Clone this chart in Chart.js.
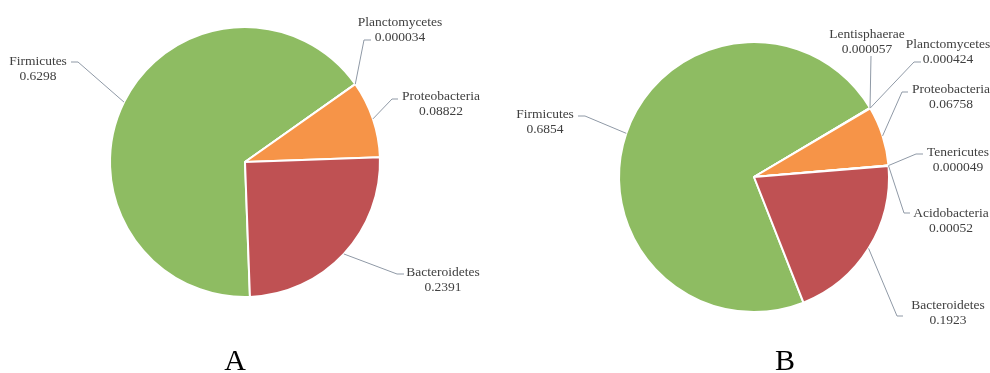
<!DOCTYPE html>
<html>
<head>
<meta charset="utf-8">
<script src="https://cdn.jsdelivr.net/npm/chart.js@4"></script>
<style>
  html, body { margin: 0; padding: 0; background: #fff; }
  .wrap { position: absolute; top: 0; width: 495px; height: 373px; }
  #wrapA { left: 0; }
  #wrapB { left: 495px; }
</style>
</head>
<body>
<div class="wrap" id="wrapA"><canvas id="chartA"></canvas></div>
<div class="wrap" id="wrapB"><canvas id="chartB"></canvas></div>
<script>
// ── datos ──
const catsA = ['Firmicutes', 'Planctomycetes', 'Proteobacteria', 'Bacteroidetes'];
const valsA = [0.6298, 0.000034, 0.08822, 0.2391];

const catsB = ['Firmicutes', 'Lentisphaerae', 'Planctomycetes', 'Proteobacteria', 'Tenericutes', 'Acidobacteria', 'Bacteroidetes'];
const valsB = [0.6854, 0.000057, 0.000424, 0.06758, 0.000049, 0.00052, 0.1923];

const panelTitles = ['A', 'B'];

// ── estilo ──
const phylumColor = {
  Firmicutes: '#8ebc62',
  Proteobacteria: '#f69448',
  Bacteroidetes: '#bf5153',
  Planctomycetes: '#8064a2',
  Lentisphaerae: '#4bacc6',
  Tenericutes: '#4f81bd',
  Acidobacteria: '#2c4d75'
};
const LEADER = '#8f99a6';
const FONT = '"Liberation Serif", "Times New Roman", serif';

// posiciones de etiquetas (coords del canvas): texto, codo y final de la guía
const layoutA = {
  Firmicutes:     { tx: 38,  ty: 60,  elbow: [78, 62],  end: [71, 62] },
  Planctomycetes: { tx: 400, ty: 21,  elbow: [364, 40], end: [371, 40] },
  Proteobacteria: { tx: 441, ty: 95,  elbow: [392, 99], end: [398, 99] },
  Bacteroidetes:  { tx: 443, ty: 271, elbow: [397, 274], end: [404, 274] }
};
const layoutB = {
  Firmicutes:     { tx: 50,  ty: 113, elbow: [90, 116],  end: [83, 116] },
  Lentisphaerae:  { tx: 372, ty: 33,  elbow: [376, 56],  end: [376, 56] },
  Planctomycetes: { tx: 453, ty: 43,  elbow: [419, 62],  end: [426, 62] },
  Proteobacteria: { tx: 456, ty: 88,  elbow: [407, 92],  end: [413, 92] },
  Tenericutes:    { tx: 463, ty: 151, elbow: [421, 154], end: [428, 154] },
  Acidobacteria:  { tx: 456, ty: 212, elbow: [409, 213], end: [415, 213] },
  Bacteroidetes:  { tx: 453, ty: 304, elbow: [402, 316], end: [408, 316] }
};

// etiquetas con líneas guía estilo Excel + letra del panel
const labelPlugin = {
  id: 'pieLabels',
  afterDatasetsDraw(chart, args, opts) {
    const ctx = chart.ctx;
    const meta = chart.getDatasetMeta(0);
    const cats = chart.data.labels;
    const vals = chart.data.datasets[0].data;
    ctx.save();
    meta.data.forEach((arc, i) => {
      const p = arc.getProps(['x', 'y', 'startAngle', 'endAngle', 'outerRadius'], true);
      const mid = (p.startAngle + p.endAngle) / 2;
      const ex = p.x + Math.cos(mid) * p.outerRadius;
      const ey = p.y + Math.sin(mid) * p.outerRadius;
      const L = opts.layout[cats[i]];
      ctx.strokeStyle = LEADER;
      ctx.lineWidth = 1;
      ctx.beginPath();
      ctx.moveTo(ex, ey);
      ctx.lineTo(L.elbow[0], L.elbow[1]);
      ctx.lineTo(L.end[0], L.end[1]);
      ctx.stroke();
      ctx.fillStyle = '#404040';
      ctx.font = '13.5px ' + FONT;
      ctx.textAlign = 'center';
      ctx.textBaseline = 'alphabetic';
      ctx.fillText(cats[i], L.tx, L.ty + 4.5);
      ctx.fillText(String(vals[i]), L.tx, L.ty + 20);
    });
    ctx.fillStyle = '#000';
    ctx.font = '30px ' + FONT;
    ctx.textAlign = 'center';
    ctx.fillText(opts.title, opts.titleX, 370);
    ctx.restore();
  }
};

function makePie(id, cats, vals, rotation, padding, layout, title, titleX) {
  return new Chart(document.getElementById(id), {
    type: 'pie',
    data: {
      labels: cats,
      datasets: [{
        data: vals,
        backgroundColor: cats.map(c => phylumColor[c]),
        borderColor: '#ffffff',
        borderWidth: 2
      }]
    },
    options: {
      responsive: true,
      maintainAspectRatio: false,
      animation: false,
      rotation: rotation,
      layout: { padding: padding },
      plugins: {
        legend: { display: false },
        tooltip: { enabled: false },
        pieLabels: { layout: layout, title: title, titleX: titleX }
      }
    },
    plugins: [labelPlugin]
  });
}

makePie('chartA', catsA, valsA, 177.9, { left: 109, right: 114, top: 26, bottom: 75 }, layoutA, panelTitles[0], 235);
makePie('chartB', catsB, valsB, 158.5, { left: 123, right: 100, top: 41, bottom: 60 }, layoutB, panelTitles[1], 290);
</script>
</body>
</html>
